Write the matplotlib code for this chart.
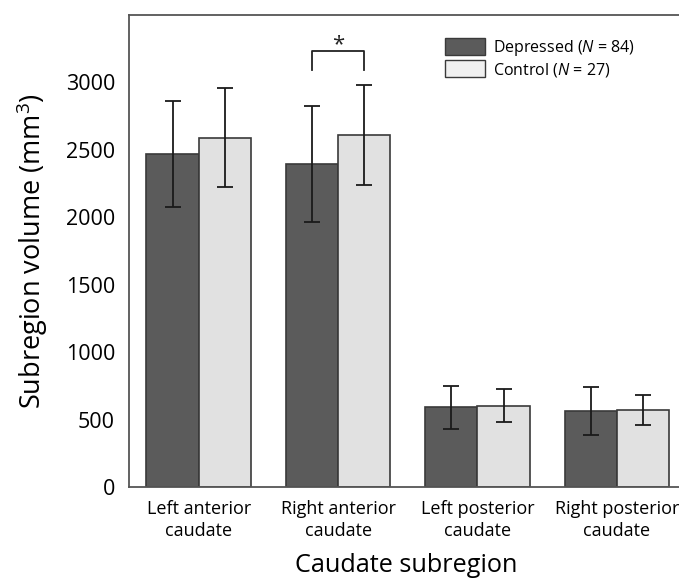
import matplotlib
matplotlib.use("Agg")
import matplotlib.pyplot as plt
import numpy as np
from matplotlib.patches import Patch

plt.rcParams['font.family'] = ['Open Sans', 'DejaVu Sans']
plt.rcParams['mathtext.fontset'] = 'custom'
plt.rcParams['mathtext.rm'] = 'Open Sans'
plt.rcParams['mathtext.it'] = 'Open Sans:italic'

categories = ["Left anterior\ncaudate", "Right anterior\ncaudate",
              "Left posterior\ncaudate", "Right posterior\ncaudate"]
depressed_mean = [2467, 2398, 590, 562]
depressed_sd = [392, 430, 161, 176]
control_mean = [2590, 2608, 604, 572]
control_sd = [368, 370, 125, 110]
series_labels = ["Depressed ($\\it{N}$ = 84)", "Control ($\\it{N}$ = 27)"]
yticks = [0, 500, 1000, 1500, 2000, 2500, 3000]

dark = "#5b5b5b"
light = "#e1e1e1"
edge = "#3a3a3a"

fig = plt.figure(figsize=(6.79, 5.79), dpi=100)
ax = fig.add_axes([0.19, 0.159, 0.815, 0.815])

x = np.arange(len(categories))
w = 0.375
ax.bar(x - w / 2, depressed_mean, w, color=dark, edgecolor=edge, linewidth=1.2, zorder=2)
ax.bar(x + w / 2, control_mean, w, color=light, edgecolor=edge, linewidth=1.2, zorder=2)
ax.errorbar(x - w / 2, depressed_mean, yerr=depressed_sd, fmt="none", ecolor="#1a1a1a",
            elinewidth=1.3, capsize=6, capthick=1.3, zorder=3)
ax.errorbar(x + w / 2, control_mean, yerr=control_sd, fmt="none", ecolor="#1a1a1a",
            elinewidth=1.3, capsize=6, capthick=1.3, zorder=3)

# significance bracket
bx0, bx1 = x[1] - w / 2, x[1] + w / 2
ax.plot([bx0, bx0, bx1, bx1], [3090, 3235, 3235, 3090], color="#222222", lw=1.3)
ax.text(x[1], 3240, "*", ha="center", va="baseline", fontsize=16, color="#222222")

ax.set_xlim(-0.5, 3.47)
ax.set_ylim(0, 3500)
ax.set_yticks(yticks)
ax.set_yticklabels([str(t) for t in yticks], fontsize=15.5)
ax.set_xticks(x)
ax.set_xticklabels(categories, fontsize=13, linespacing=1.3)
ax.tick_params(axis="x", length=0, pad=9.5)
ax.tick_params(axis="y", length=0, pad=10)

for s in ["left", "top", "bottom"]:
    ax.spines[s].set_color("#555555")
    ax.spines[s].set_linewidth(1.3)
ax.spines["right"].set_visible(False)

ax.set_xlabel("Caudate subregion", fontsize=18.2, labelpad=9)
ax.set_ylabel("Subregion volume (mm$^3$)", fontsize=19.5, labelpad=11)

handles = [Patch(facecolor=dark, edgecolor=edge, linewidth=1.0),
           Patch(facecolor="#f0f0f0", edgecolor=edge, linewidth=1.0)]
ax.legend(handles, series_labels, loc="upper left", bbox_to_anchor=(0.56, 0.965),
          frameon=False, fontsize=11.5, handlelength=2.5, handleheight=1.25,
          handletextpad=0.5, labelspacing=0.15, borderaxespad=0)

fig.savefig("out.png", dpi=100)
